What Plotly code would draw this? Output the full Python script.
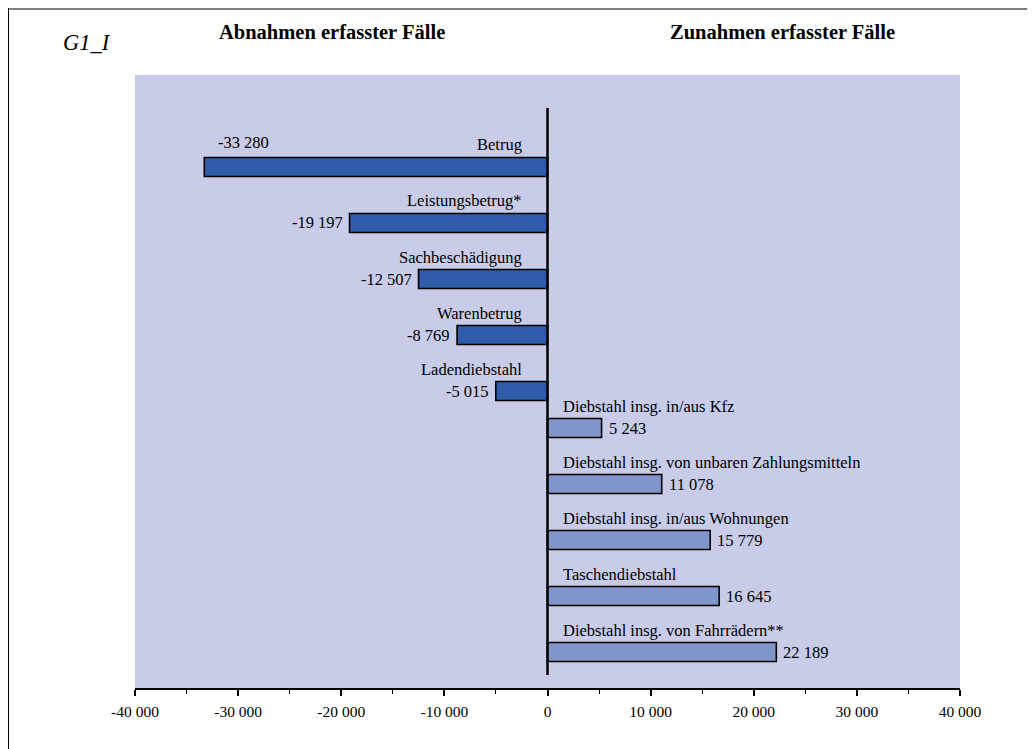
import plotly.graph_objects as go

# ---- data ----
categories = [
    "Betrug",
    "Leistungsbetrug*",
    "Sachbeschädigung",
    "Warenbetrug",
    "Ladendiebstahl",
    "Diebstahl insg. in/aus Kfz",
    "Diebstahl insg. von unbaren Zahlungsmitteln",
    "Diebstahl insg. in/aus Wohnungen",
    "Taschendiebstahl",
    "Diebstahl insg. von Fahrrädern**",
]
changes = [-33280, -19197, -12507, -8769, -5015, 5243, 11078, 15779, 16645, 22189]
tick_values = [-40000, -30000, -20000, -10000, 0, 10000, 20000, 30000, 40000]
tick_labels = ["-40 000", "-30 000", "-20 000", "-10 000", "0",
               "10 000", "20 000", "30 000", "40 000"]
chart_id = "G1_I"
title_left = "Abnahmen erfasster Fälle"
title_right = "Zunahmen erfasster Fälle"

# ---- styling ----
FONT = "Liberation Serif, Times New Roman, serif"
BG = "#C8CCE9"
NEG_COLOR = "#2E5BAA"
POS_COLOR = "#7F96CD"
PAGE_OFF = 8                      # html body margin
W, H = 1035 - PAGE_OFF, 749 - PAGE_OFF
# plot area in page px
PL, PR, PT, PB = 135, 960, 75, 688
L, R, T, B = PL - PAGE_OFF, PR - PAGE_OFF, PT - PAGE_OFF, PB - PAGE_OFF
LABEL_SIZE = 16.5

def fmt(v):
    return f"{v:,}".replace(",", " ")

def px_x(p):  # page px -> paper x
    return (p - PL) / (PR - PL)

def px_y(p):  # page px -> paper y
    return (PB - p) / (PB - PT)

CAT_PX = (PB - PT) / 10.946        # px per category
BAR_W = 19 / CAT_PX               # bar thickness in category units

pos_cats = [c for c, v in zip(categories, changes) if v > 0]
pos_vals = [v for v in changes if v > 0]
neg_cats = [c for c, v in zip(categories, changes) if v < 0]
neg_vals = [v for v in changes if v < 0]

fig = go.Figure()
fig.add_trace(go.Bar(
    y=pos_cats, x=pos_vals, orientation="h",
    width=BAR_W, offset=-BAR_W,
    marker=dict(color=POS_COLOR, line=dict(color="black", width=1.6)),
    hoverinfo="x+y", name="Zunahmen",
))
fig.add_trace(go.Bar(
    y=neg_cats, x=neg_vals, orientation="h",
    width=BAR_W, offset=0,
    marker=dict(color=NEG_COLOR, line=dict(color="black", width=1.6)),
    hoverinfo="x+y", name="Abnahmen",
))

annotations = []
BAR_OFF = 9.5   # px offset of each bar slot from category centre
LABEL_UP = 22   # category label above the bar centre
for c, v in zip(categories, changes):
    bar_shift = BAR_OFF if v > 0 else -BAR_OFF
    # category label
    annotations.append(dict(
        x=0, y=c, xref="x", yref="y", text=c, showarrow=False,
        xanchor="left" if v > 0 else "right",
        xshift=13 if v > 0 else -24,
        yshift=bar_shift + LABEL_UP,
        font=dict(family=FONT, size=LABEL_SIZE, color="black"),
    ))
    # value label
    if v > 0:
        annotations.append(dict(
            x=v, y=c, xref="x", yref="y", text=fmt(v), showarrow=False,
            xanchor="left", xshift=5, yshift=bar_shift,
            font=dict(family=FONT, size=LABEL_SIZE, color="black"),
        ))
    elif v < tick_values[0] + 10000:
        # not enough room to the left: put above the bar
        annotations.append(dict(
            x=v, y=c, xref="x", yref="y", text=fmt(v), showarrow=False,
            xanchor="center", xshift=39, yshift=bar_shift + 24,
            font=dict(family=FONT, size=LABEL_SIZE, color="black"),
        ))
    else:
        annotations.append(dict(
            x=v, y=c, xref="x", yref="y", text=fmt(v), showarrow=False,
            xanchor="right", xshift=-5, yshift=bar_shift,
            font=dict(family=FONT, size=LABEL_SIZE, color="black"),
        ))

annotations += [
    dict(x=px_x(87), y=px_y(43), xref="paper", yref="paper", text=f"<i>{chart_id}</i>",
         showarrow=False, xanchor="center", yanchor="middle",
         font=dict(family=FONT, size=22.5, color="black")),
    dict(x=px_x(332), y=px_y(32), xref="paper", yref="paper", text=f"<b>{title_left}</b>",
         showarrow=False, xanchor="center", yanchor="middle",
         font=dict(family=FONT, size=20.5, color="black")),
    dict(x=px_x(782), y=px_y(32), xref="paper", yref="paper", text=f"<b>{title_right}</b>",
         showarrow=False, xanchor="center", yanchor="middle",
         font=dict(family=FONT, size=20.5, color="black")),
]

shapes = [
    # zero line
    dict(type="line", xref="x", yref="paper", x0=0, x1=0,
         y0=px_y(675), y1=px_y(108), line=dict(color="black", width=2.5)),
    # frame lines (top grey, left black)
    dict(type="line", xref="paper", yref="paper", x0=px_x(8), x1=px_x(1035),
         y0=px_y(9), y1=px_y(9), line=dict(color="#808080", width=2)),
    dict(type="line", xref="paper", yref="paper", x0=px_x(8.5), x1=px_x(8.5),
         y0=px_y(8), y1=px_y(749), line=dict(color="black", width=1)),
]

fig.update_layout(
    width=W, height=H,
    margin=dict(l=L, r=W - R, t=T, b=H - B, pad=0),
    paper_bgcolor="white", plot_bgcolor=BG,
    barmode="overlay",
    showlegend=False,
    font=dict(family=FONT, size=15, color="black"),
    annotations=annotations, shapes=shapes,
    xaxis=dict(
        range=[tick_values[0], tick_values[-1]],
        tickvals=tick_values, ticktext=tick_labels,
        showgrid=False, zeroline=False,
        showline=True, linecolor="black", linewidth=1.5,
        ticks="outside", ticklen=6, tickwidth=1.5, tickcolor="black",
        ticklabelstandoff=3,
        minor=dict(ticks="outside", ticklen=4, tickwidth=1, tickcolor="black",
                   dtick=5000, tick0=0, showgrid=False),
        tickfont=dict(family=FONT, size=15.5, color="black"),
        fixedrange=True,
    ),
    yaxis=dict(
        type="category", categoryorder="array", categoryarray=categories,
        range=[9.473, -1.473],
        showticklabels=False, showgrid=False, zeroline=False, showline=False,
        ticks="", fixedrange=True,
    ),
)

fig.write_html("out.html")
